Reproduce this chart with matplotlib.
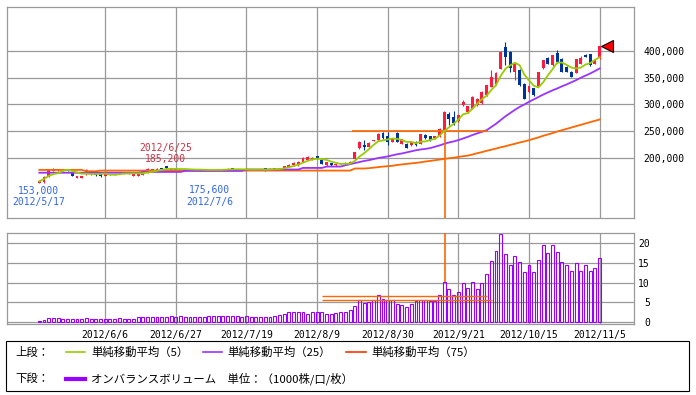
import numpy as np
import pandas as pd
import matplotlib
matplotlib.use('Agg')
import matplotlib.pyplot as plt
from matplotlib.lines import Line2D
from matplotlib.patches import Rectangle

plt.rcParams['font.family'] = ['Noto Sans CJK JP', 'DejaVu Sans']

# trading days 2012/5/17 .. 2012/11/5, ticks every 15 days
tick_idx = [14, 29, 44, 59, 74, 89, 104, 119]
tick_labels = ['2012/6/6', '2012/6/27', '2012/7/19', '2012/8/9',
               '2012/8/30', '2012/9/21', '2012/10/15', '2012/11/5']

# prices in thousand yen
opens = [154.0, 155.0, 166.5, 176.0, 177.5, 177.0, 177.0, 172.0, 162.5, 163.5,
         170.0, 169.5, 173.5, 171.5, 166.0, 170.0, 169.5, 173.0, 171.5, 172.0,
         166.0, 167.0, 169.0, 172.3, 174.0, 177.0, 181.0, 184.7, 177.2, 180.5,
         178.0, 178.0, 179.0, 178.0, 178.5, 178.0, 178.0, 177.0, 177.5, 178.0,
         178.5, 181.0, 179.5, 179.0, 178.0, 178.5, 178.0, 178.3, 180.5, 178.5,
         179.0, 179.5, 181.3, 184.0, 186.5, 186.5, 192.7, 196.0, 197.8, 203.4,
         197.0, 187.0, 190.0, 186.5, 190.0, 188.0, 189.0, 198.3, 217.8, 224.0,
         221.0, 232.0, 233.3, 247.0, 240.7, 230.0, 247.0, 227.0, 227.0, 224.0,
         230.0, 227.0, 242.6, 240.7, 236.5, 240.7, 252.0, 282.0, 276.0, 269.0,
         298.6, 286.0, 292.5, 298.6, 302.0, 317.4, 333.0, 338.0, 367.0, 407.7,
         398.3, 361.0, 364.1, 339.2, 323.5, 329.9, 332.9, 367.3, 387.8, 373.4,
         396.4, 384.1, 370.3, 360.9, 359.1, 376.6, 392.1, 394.0, 376.6, 386.0]
highs = [157.5, 166.0, 180.0, 181.0, 179.5, 178.5, 177.5, 172.5, 167.0, 167.0,
         180.0, 173.5, 174.5, 172.0, 172.0, 170.5, 171.0, 173.5, 173.0, 172.5,
         171.5, 170.5, 174.0, 181.0, 179.5, 180.5, 182.0, 185.2, 182.0, 181.0,
         179.0, 179.5, 179.5, 179.0, 179.0, 178.5, 178.5, 178.5, 179.0, 179.5,
         180.5, 181.5, 180.0, 179.5, 179.0, 179.0, 179.0, 179.5, 181.0, 180.5,
         181.0, 181.5, 185.5, 188.0, 192.5, 193.5, 201.0, 203.0, 202.5, 204.5,
         198.0, 193.0, 190.5, 189.0, 191.0, 192.0, 194.0, 212.0, 232.0, 233.0,
         229.0, 234.0, 247.0, 248.0, 248.8, 237.5, 249.0, 235.5, 228.0, 231.0,
         231.0, 245.5, 244.0, 242.0, 241.5, 256.0, 288.0, 286.0, 288.0, 281.0,
         308.0, 298.0, 315.0, 312.0, 324.5, 337.0, 365.4, 360.0, 400.2, 417.0,
         400.0, 379.6, 366.0, 341.0, 336.5, 331.0, 361.0, 383.0, 389.0, 393.0,
         402.0, 386.0, 372.0, 362.0, 385.0, 390.0, 394.5, 395.0, 383.5, 410.0]
lows = [153.0, 154.0, 165.0, 175.0, 176.5, 176.0, 175.5, 165.5, 162.0, 163.0,
        168.0, 168.5, 167.0, 164.5, 165.5, 168.5, 169.0, 171.5, 171.0, 170.5,
        165.5, 166.0, 168.5, 172.0, 173.5, 176.5, 178.5, 180.0, 176.5, 177.0,
        177.5, 177.5, 177.5, 177.5, 177.0, 176.5, 175.6, 176.5, 177.0, 177.5,
        178.0, 178.5, 178.0, 177.5, 177.5, 177.5, 177.5, 178.0, 176.5, 178.0,
        178.5, 179.0, 181.0, 183.5, 186.0, 186.0, 192.0, 195.5, 197.0, 198.5,
        188.0, 186.0, 186.0, 186.0, 188.5, 187.5, 188.5, 197.0, 216.0, 214.6,
        220.0, 231.0, 232.5, 236.0, 224.0, 229.0, 229.0, 226.0, 219.0, 223.0,
        223.0, 226.0, 236.0, 232.5, 235.5, 240.0, 250.0, 261.0, 262.0, 268.0,
        297.0, 285.0, 291.0, 297.5, 301.0, 316.5, 332.0, 337.0, 366.0, 373.4,
        360.0, 345.4, 335.0, 310.0, 322.0, 316.5, 332.0, 366.0, 375.0, 372.5,
        377.0, 360.0, 360.0, 350.5, 358.0, 376.0, 388.0, 372.5, 375.5, 385.0]
closes = [156.5, 165.0, 178.5, 179.5, 179.0, 177.8, 176.0, 166.5, 166.2, 166.5,
          178.5, 172.5, 167.5, 165.5, 171.0, 169.0, 170.5, 172.0, 172.5, 171.0,
          171.0, 170.0, 173.0, 178.7, 178.7, 180.0, 179.0, 180.5, 181.3, 177.5,
          178.5, 179.0, 178.0, 178.8, 177.5, 177.0, 177.0, 178.0, 178.5, 179.0,
          180.0, 179.0, 178.5, 178.0, 178.8, 178.0, 178.8, 179.0, 177.0, 180.0,
          180.5, 181.0, 184.8, 187.5, 191.5, 192.7, 200.2, 202.0, 200.2, 199.0,
          189.0, 192.0, 186.5, 188.0, 189.0, 191.0, 193.0, 211.4, 230.0, 220.0,
          228.0, 233.3, 245.8, 236.5, 230.0, 236.5, 230.0, 234.6, 219.6, 230.0,
          224.0, 244.5, 236.5, 233.3, 240.7, 255.0, 286.0, 272.0, 265.6, 280.0,
          304.9, 296.8, 314.0, 311.2, 323.5, 336.0, 351.6, 359.0, 398.3, 389.0,
          367.3, 376.6, 336.1, 311.2, 334.2, 317.4, 360.9, 382.8, 376.6, 392.1,
          379.6, 360.9, 360.9, 351.6, 384.1, 387.8, 389.0, 373.4, 382.8, 409.0]

ma25 = ([172.5] * 22 + [174.0] * 9 + [175.9] * 13 + [178.5] * 12 + [181.5] * 5 + [184.0] * 4 +
        [186.5, 188.5, 190.5, 192.5, 194.5, 196.0, 198.0, 200.0, 201.5, 203.0,
         205.0, 207.0, 208.5, 210.5, 212.5, 214.5, 216.0, 217.0, 218.5, 221.0,
         223.5, 226.5, 229.0, 231.0, 233.5, 236.5, 239.5, 243.0, 246.0, 249.0,
         252.0, 258.0, 264.0, 271.0, 278.0, 284.0, 290.0, 295.5, 300.0, 305.0,
         309.5, 314.0, 318.5, 322.5, 326.5, 330.0, 334.0, 337.5, 341.5, 345.5,
         350.0, 354.0, 358.0, 362.5, 367.3])
ma75 = ([177.8] * 10 + [175.3] * 3 + [176.5] * 54 +
        [180.4, 180.4, 180.4, 181.0, 182.0, 183.0, 184.0, 184.7, 185.5, 187.0,
         188.0, 189.0, 190.0, 190.8, 192.0, 193.5, 194.5, 195.9, 197.0, 198.3,
         199.5, 200.5, 202.0, 203.4, 204.5, 206.5, 209.0, 211.0, 213.5, 215.5,
         217.8, 220.0, 222.0, 224.5, 226.5, 229.0, 231.0, 233.3, 236.0, 238.5,
         241.5, 244.0, 246.5, 249.5, 252.0, 254.5, 257.0, 259.5, 262.0, 264.5,
         267.0, 269.5, 272.0])

# on-balance volume (1000 shares)
obv = [0.25, 0.55, 0.85, 1.0, 1.0, 0.8, 0.8, 0.8, 0.8, 0.8,
       1.0, 0.8, 0.8, 0.8, 0.8, 0.8, 0.8, 1.0, 0.8, 0.8,
       0.8, 1.1, 1.3, 1.3, 1.3, 1.3, 1.3, 1.3, 1.5, 1.2,
       1.5, 1.3, 1.3, 1.3, 1.3, 1.3, 1.5, 1.5, 1.5, 1.5,
       1.5, 1.5, 1.5, 1.3, 1.5, 1.3, 1.3, 1.3, 1.3, 1.3,
       1.5, 1.7, 2.0, 2.6, 2.6, 2.6, 2.6, 2.0, 2.4, 2.4,
       2.4, 2.0, 2.0, 2.3, 2.5, 2.5, 3.0, 4.0, 5.5, 4.8,
       5.1, 5.5, 6.75, 5.8, 5.5, 5.5, 4.6, 4.3, 3.8, 4.4,
       5.2, 5.5, 5.5, 5.2, 5.2, 6.75, 10.1, 8.35, 6.75, 7.6,
       9.9, 8.6, 10.1, 8.35, 9.9, 12.15, 15.6, 18.1, 22.4, 17.2,
       14.5, 16.8, 15.2, 12.65, 14.5, 12.65, 15.8, 19.6, 17.5, 19.6,
       17.7, 15.2, 14.5, 13.0, 14.9, 13.0, 14.5, 13.0, 13.7, 16.2]

# stray orange marker lines on the original chart
mark_price = 250.0
mark_price_span = (66.5, 95.3)
mark_idx = 86.2
mark_vol = [6.6, 5.45]
mark_vol_end = [95.0, 96.2]
mark_vol_start = 60.0

RED = '#ff1a40'
BLUE = '#003399'
GREEN = '#99cc00'
PURPLE = '#9933ff'
ORANGE = '#ff6600'
GRID = '#999999'

o = np.array(opens) * 1000
h = np.array(highs) * 1000
l = np.array(lows) * 1000
c = np.array(closes) * 1000
x = np.arange(len(c))
ma5 = pd.Series(c).rolling(5, min_periods=1).mean()

W, H = 696, 395
fig = plt.figure(figsize=(W / 100, H / 100), dpi=100)


def box(x0, y0, x1, y1):
    return [x0 / W, 1 - y1 / H, (x1 - x0) / W, (y1 - y0) / H]


ax1 = fig.add_axes(box(7, 7, 634, 218))
ax2 = fig.add_axes(box(7, 233.3, 634, 324.3))

for ax in (ax1, ax2):
    ax.set_xlim(-6.86, 126.3)
    ax.set_xticks(tick_idx)
    ax.grid(True, color=GRID, lw=0.9)
    ax.set_axisbelow(True)
    for s in ax.spines.values():
        s.set_color(GRID)
        s.set_linewidth(0.9)
    ax.yaxis.tick_right()
    ax.tick_params(length=0, labelsize=7)

mono = 'DejaVu Sans Mono'

# price pane
up = c >= o
col = np.where(up, RED, BLUE)
ax1.vlines(x, l, h, colors=col, lw=0.8, zorder=2)
ax1.bar(x, np.maximum(np.abs(c - o), 1500), bottom=np.minimum(o, c),
        width=0.62, color=col, linewidth=0, zorder=2)
ax1.plot(x, np.array(ma75) * 1000, color=ORANGE, lw=1.3, zorder=3)
ax1.plot(x, np.array(ma25) * 1000, color=PURPLE, lw=1.3, zorder=3)
ax1.plot(x, ma5, color=GREEN, lw=1.3, zorder=4)
ax1.hlines(mark_price * 1000, *mark_price_span, color=ORANGE, lw=1.2, zorder=3)
ax1.vlines(mark_idx, 0, mark_price * 1000, color=ORANGE, lw=1.2, zorder=3)
ax1.plot(x[-1] + 1.6, c[-1], marker='<', ms=9, mfc='#ff0000', mec='black',
         mew=0.8, zorder=5, clip_on=False)

ax1.set_ylim(87900, 482200)
yt = [200000, 250000, 300000, 350000, 400000]
ax1.set_yticks(yt)
ax1.set_yticklabels([f'{v:,}' for v in yt], family=mono, fontsize=7)
ax1.tick_params(axis='y', pad=6.5)
ax1.tick_params(axis='x', labelbottom=False)

ax1.annotate('153,000\n2012/5/17', xy=(0, l[0]), xytext=(-0.7, -2.2),
             textcoords='offset points', ha='center', va='top', fontsize=7,
             family=mono, color='#3366ee', linespacing=1.1)
ax1.annotate('2012/6/25\n185,200', xy=(27, h[27]), xytext=(-0.7, 1.2),
             textcoords='offset points', ha='center', va='bottom', fontsize=7,
             family=mono, color='#cc3344', linespacing=1.1)
ax1.annotate('175,600\n2012/7/6', xy=(36, l[36]), xytext=(0.7, -10.3),
             textcoords='offset points', ha='center', va='top', fontsize=7,
             family=mono, color='#3366ee', linespacing=1.15)

# volume pane
ax2.bar(x, obv, width=0.62, fill=False, edgecolor='#9900ff', linewidth=0.8, zorder=2)
ax2.hlines(mark_vol, mark_vol_start, mark_vol_end, color=ORANGE, lw=1.0, zorder=3)
ax2.vlines(mark_idx, obv[86], 30, color=ORANGE, lw=1.2, zorder=3)
ax2.set_ylim(-0.66, 22.55)
ax2.set_yticks([0, 5, 10, 15, 20])
ax2.set_yticklabels(['0', '5', '10', '15', '20'], family=mono, fontsize=7, ha='right')
ax2.tick_params(axis='y', pad=11.5)
ax2.set_xticklabels(tick_labels, family=mono, fontsize=7)
ax2.tick_params(axis='x', pad=4)

# legend box
fig.patches.append(Rectangle((6 / W, 1 - 391 / H), 683 / W, 50 / H,
                             transform=fig.transFigure, fill=False,
                             edgecolor='black', lw=0.8))


def ftxt(px, py, s, **kw):
    fig.text(px / W, 1 - py / H, s, va='center', fontsize=8.2, **kw)


def fline(x0, x1, py, color, lw):
    fig.add_artist(Line2D([x0 / W, x1 / W], [1 - py / H, 1 - py / H],
                          transform=fig.transFigure, color=color, lw=lw))


r1, r2 = 352, 379
ftxt(15, r1, '上段：')
fline(66, 85, r1, GREEN, 1.2)
ftxt(91, r1, '単純移動平均（5）')
fline(203, 222, r1, PURPLE, 1.2)
ftxt(227, r1, '単純移動平均（25）')
fline(346, 366, r1, '#ff3300', 1.2)
ftxt(371, r1, '単純移動平均（75）')
ftxt(15, r2, '下段：')
fline(66, 85, r2, '#9900ff', 3)
ftxt(91, r2, 'オンバランスボリューム　単位：（1000株/口/枚）')

fig.savefig('out.png', dpi=100)
